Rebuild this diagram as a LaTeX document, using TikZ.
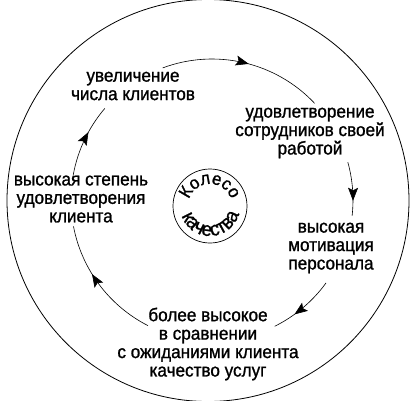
\documentclass[tikz,border=0pt]{standalone}
\usepackage{fontspec}
\setmainfont{Liberation Sans}[FakeStretch=0.93,FakeBold=1.1]
\usetikzlibrary{decorations.markings,decorations.text,arrows.meta}
\begin{document}
\begin{tikzpicture}[x=1bp,y=1bp,
  lbl/.style={font=\fontsize{18.5}{18.5}\selectfont, align=center, inner sep=0pt},
  cyc/.style={line width=0.6bp},
  midarrow/.style={postaction={decorate}, decoration={markings,
     mark=at position #1 with {\arrow{Stealth[length=13bp,width=10bp,inset=2.5bp]}}}}]
\useasboundingbox (0,0) rectangle (411,-401);
% outer circle
\node[draw, circle, line width=0.8bp, minimum size=402bp, inner sep=0pt] (outer) at (208,-200.5) {};
% inner circle
\node[draw, circle, line width=0.7bp, minimum size=74bp, inner sep=0pt] (hub) at (210,-206) {};
\path[decorate, decoration={text along path, text align=center,
   text={|\fontsize{18}{18}\selectfont|Колесо}}]
   (hub.center) ++(175:22) arc[start angle=175, end angle=5, radius=22];
\path[decorate, decoration={text along path, text align=center,
   text={|\fontsize{20}{20}\selectfont|качества}}]
   (hub.center) ++(182:30) arc[start angle=182, end angle=362, radius=30];
% labels
\node[lbl] (n1) at (133,-86) {увеличение\\числа клиентов};
\node[lbl] (n2) at (310,-133) {удовлетворение\\сотрудников своей\\работой};
\node[lbl] (n3) at (331,-248) {высокая\\мотивация\\персонала};
\node[lbl] (n4) at (208,-344) {более высокое\\в сравнении\\с ожиданиями клиента\\качество услуг};
\node[lbl] (n5) at (81,-199) {высокая степень\\удовлетворения\\клиента};
% cycle arcs
\coordinate (C) at (212,-200);
\path (C) ++(110.5:141) coordinate (s1);
\path (C) ++(15.6:141) coordinate (s2);
\path (C) ++(-36:141) coordinate (s3);
\path (C) ++(243:141) coordinate (s4);
\path (C) ++(172:141) coordinate (s5);
\draw[cyc, midarrow=0.53] (s1) arc[start angle=110.5, end angle=43.3, radius=141];
\draw[cyc, midarrow=0.72] (s2) arc[start angle=15.6, end angle=-6.5, radius=141];
\draw[cyc, midarrow=0.66] (s3) arc[start angle=-36, end angle=-63.6, radius=141];
\draw[cyc, midarrow=0.6] (s4) arc[start angle=243, end angle=190.8, radius=141];
\draw[cyc, midarrow=0.64] (s5) arc[start angle=172, end angle=139.5, radius=141];
\end{tikzpicture}
\end{document}
